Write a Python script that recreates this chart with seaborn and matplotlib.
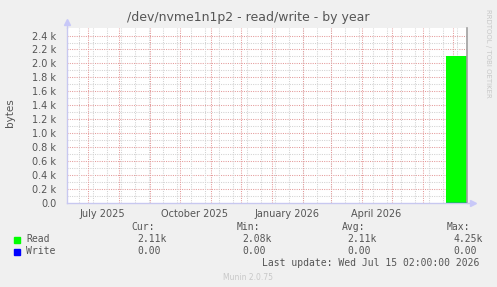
import matplotlib
matplotlib.use("Agg")
import matplotlib.pyplot as plt
import matplotlib.dates as mdates
from matplotlib.patches import Rectangle
import seaborn as sns
import pandas as pd
import numpy as np

# ---------------- data ----------------
title = "/dev/nvme1n1p2 - read/write - by year"
ylabel = "bytes"
series_names = ["Read", "Write"]
series_colors = ["#00FF00", "#0000FF"]

read_dates = ["2026-06-24 02:00", "2026-07-15 02:00"]
read_values = [2110, 2110]
write_dates = ["2026-06-24 02:00", "2026-07-15 02:00"]
write_values = [0, 0]

cur_vals = ["2.11k", "0.00"]
min_vals = ["2.08k", "0.00"]
avg_vals = ["2.11k", "0.00"]
max_vals = ["4.25k", "0.00"]

ytick_values = [0, 200, 400, 600, 800, 1000, 1200, 1400, 1600, 1800, 2000, 2200, 2400]
ytick_labels = ["0.0", "0.2 k", "0.4 k", "0.6 k", "0.8 k", "1.0 k", "1.2 k",
                "1.4 k", "1.6 k", "1.8 k", "2.0 k", "2.2 k", "2.4 k"]
xtick_dates = ["2025-07-16", "2025-10-16", "2026-01-16", "2026-04-16"]
xtick_labels = ["July 2025", "October 2025", "January 2026", "April 2026"]
last_update = "Last update: Wed Jul 15 02:00:00 2026"
end_time = "2026-07-15 02:00"

# ---------------- style ----------------
sns.set_style("white")
plt.rcParams["font.family"] = ["DejaVu Sans"]
TXT = "#555555"
W, H = 497, 287

fig = plt.figure(figsize=(W / 100, H / 100), dpi=100, facecolor="#F0F0F0")
ax = fig.add_axes([66.7 / W, 84 / H, 400 / W, 175.5 / H])
ax.set_facecolor("white")

end = pd.Timestamp(end_time)
start = end - pd.Timedelta(days=400)

MINOR_C = "#D2D2D2"
MAJOR_C = "#E49A9A"
DOT = (0, (1, 1.2))

# grid lines
ax.set_ylim(0, 2515)
ax.set_xlim(start, end)
for v in np.arange(100, 2500, 200):
    ax.axhline(v, color=MINOR_C, lw=0.75, ls=DOT, zorder=0)
for v in ytick_values[1:]:
    ax.axhline(v, color=MAJOR_C, lw=0.75, ls=DOT, zorder=0)
for d in pd.date_range("2025-06-22", end, freq="14D"):
    ax.axvline(d, color=MINOR_C, lw=0.75, ls=DOT, zorder=0)
for d in pd.date_range("2025-07-01", end, freq="MS"):
    ax.axvline(d, color=MAJOR_C, lw=0.75, ls=DOT, zorder=0)

# data
df_read = pd.DataFrame({"date": pd.to_datetime(read_dates), "value": read_values})
df_write = pd.DataFrame({"date": pd.to_datetime(write_dates), "value": write_values})
ax.fill_between(df_read["date"], 0, df_read["value"], color=series_colors[0], lw=0, zorder=2)
sns.lineplot(data=df_write, x="date", y="value", ax=ax, color=series_colors[1], lw=1, zorder=3)

# axes
ax.set_yticks(ytick_values)
ax.set_yticklabels(ytick_labels)
ax.set_xticks(pd.to_datetime(xtick_dates))
ax.set_xticklabels(xtick_labels)
ax.tick_params(axis="both", labelsize=7, colors=TXT, length=0)
ax.tick_params(axis="y", pad=7.5)
ax.tick_params(axis="x", pad=4)
ax.set_xlabel("")
ax.set_ylabel("")
ax.spines["top"].set_visible(False)
ax.spines["left"].set_color("#C8C8F0")
ax.spines["bottom"].set_color("#C8C8F0")
ax.spines["left"].set_linewidth(1)
ax.spines["bottom"].set_linewidth(1)
ax.spines["right"].set_color("#A0A0A0")
ax.spines["right"].set_linewidth(1.2)
ax.plot([0, 0], [1, 1.025], transform=ax.transAxes, color="#C8C8F0", lw=1, clip_on=False)
ax.plot([0], [1.03], marker="^", ms=4, color="#C8C8F8", transform=ax.transAxes, clip_on=False)
ax.plot([1, 1.012], [0, 0], transform=ax.transAxes, color="#C8C8F0", lw=1, clip_on=False)
ax.plot([1.015], [0], marker=">", ms=4, color="#C8C8F8", transform=ax.transAxes, clip_on=False)

# texts
def ft(x, y, s, **kw):
    fig.text(x / W, 1 - y / H, s, **kw)

ft(248.5, 18, title, ha="center", va="center", fontsize=9, color=TXT)
ft(10, 113, ylabel, ha="center", va="center", rotation=90, fontsize=7.5, color=TXT)
ft(488, 53, "RRDTOOL / TOBI OETIKER", ha="center", va="center", rotation=270,
   fontsize=5, color="#C8C8C8")

mono = dict(family="DejaVu Sans Mono", fontsize=7, color=TXT, va="center")
ft(131.7, 227, "Cur:", ha="left", **mono)
ft(236.7, 227, "Min:", ha="left", **mono)
ft(341.7, 227, "Avg:", ha="left", **mono)
ft(446.7, 227, "Max:", ha="left", **mono)
rows_y = [239.5, 251.5]
for i, name in enumerate(series_names):
    y = rows_y[i]
    fig.add_artist(Rectangle((14 / W, 1 - (y + 3) / H), 6 / W, 6 / H,
                             transform=fig.transFigure, color=series_colors[i]))
    ft(26, y, name, ha="left", **mono)
    ft(137.7, y, cur_vals[i], ha="left", **mono)
    ft(242.7, y, min_vals[i], ha="left", **mono)
    ft(347.7, y, avg_vals[i], ha="left", **mono)
    ft(453.3, y, max_vals[i], ha="left", **mono)
ft(261.7, 263.5, last_update, ha="left", **mono)
ft(248, 277, "Munin 2.0.75", ha="center", va="center", fontsize=5.5, color="#C8C8C8")

fig.savefig("out.png", dpi=100, facecolor=fig.get_facecolor())
